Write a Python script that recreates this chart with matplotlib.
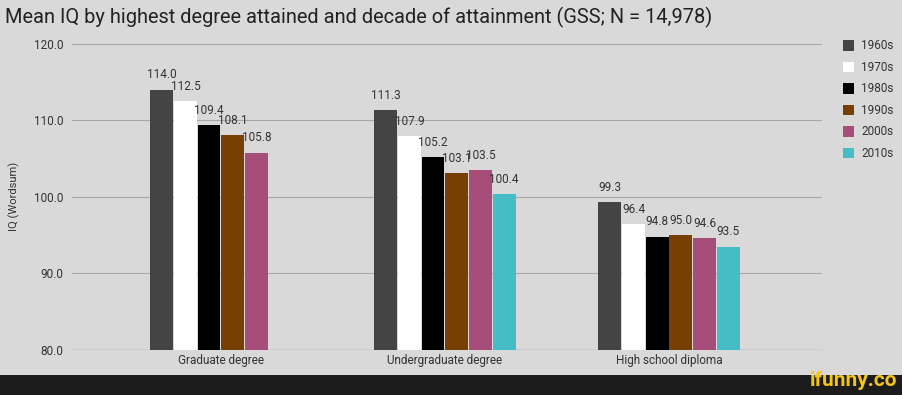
import numpy as np
import matplotlib.pyplot as plt
from matplotlib.patches import Rectangle

plt.rcParams['font.family'] = ['Roboto', 'DejaVu Sans']

degrees = ["Graduate degree", "Undergraduate degree", "High school diploma"]
decades = ["1960s", "1970s", "1980s", "1990s", "2000s", "2010s"]
colors = ["#444444", "#ffffff", "#000000", "#783f04", "#a64d79", "#46bdc6"]

# mean IQ per decade, one value per degree (nan = no bar)
iq_1960s = [114.0, 111.3, 99.3]
iq_1970s = [112.5, 107.9, 96.4]
iq_1980s = [109.4, 105.2, 94.8]
iq_1990s = [108.1, 103.1, 95.0]
iq_2000s = [105.8, 103.5, 94.6]
iq_2010s = [np.nan, 100.4, 93.5]
series = [iq_1960s, iq_1970s, iq_1980s, iq_1990s, iq_2000s, iq_2010s]

bg = "#d9d9d9"
txt = "#333333"
fig = plt.figure(figsize=(9.02, 3.95), dpi=100, facecolor=bg)
ax = fig.add_axes([0.0798, 0.114, 0.8315, 0.775], facecolor=bg)

x = np.arange(len(degrees))
slot = 0.1057
for i, (vals, col, lab) in enumerate(zip(series, colors, decades)):
    pos = x + (i - 2.5) * slot
    ax.bar(pos, np.array(vals) - 80, bottom=80, width=slot * 0.96,
           color=col, label=lab, zorder=3)
    for p, v in zip(pos, vals):
        if np.isnan(v):
            continue
        ax.annotate(f"{v:.1f}", (p, v), xytext=(0, 6), textcoords="offset points",
                    ha="center", va="bottom", fontsize=8.5, color=txt, zorder=4)

ax.set_xlim(-0.665, 2.683)
ax.set_ylim(80, 120)
ax.set_yticks([80, 90, 100, 110, 120])
ax.set_yticklabels(["80.0", "90.0", "100.0", "110.0", "120.0"])
ax.set_xticks(x)
ax.set_xticklabels(degrees)
ax.tick_params(axis="both", length=0, labelsize=8.5, colors=txt)
ax.tick_params(axis="y", pad=6)
ax.tick_params(axis="x", pad=3)
ax.grid(axis="y", color="#a8a8a8", linewidth=0.8, zorder=0)
for s in ax.spines.values():
    s.set_visible(False)
ax.axhline(80, color="#8a8a8a", linewidth=0.9, zorder=2)
ax.set_ylabel("IQ (Wordsum)", fontsize=8, color=txt, labelpad=10)

fig.text(0.006, 0.955, "Mean IQ by highest degree attained and decade of attainment (GSS; N = 14,978)",
         fontsize=14.4, color="#222222", va="center", ha="left")

leg = fig.legend(loc="upper left", bbox_to_anchor=(0.929, 0.912), frameon=False,
                 fontsize=8.5, handlelength=0.95, handleheight=0.95,
                 labelspacing=0.72, handletextpad=0.6, borderaxespad=0)
for t in leg.get_texts():
    t.set_color(txt)

# bottom watermark strip
fig.patches.append(Rectangle((0, 0), 1, 20 / 395, transform=fig.transFigure,
                             facecolor="#1c1c1c", zorder=0))
fig.text(0.995, 0.012, "ifunny.co", fontsize=15, fontweight="bold", color="#f5c518",
         ha="right", va="bottom")

plt.savefig("out.png", dpi=100, facecolor=bg)
